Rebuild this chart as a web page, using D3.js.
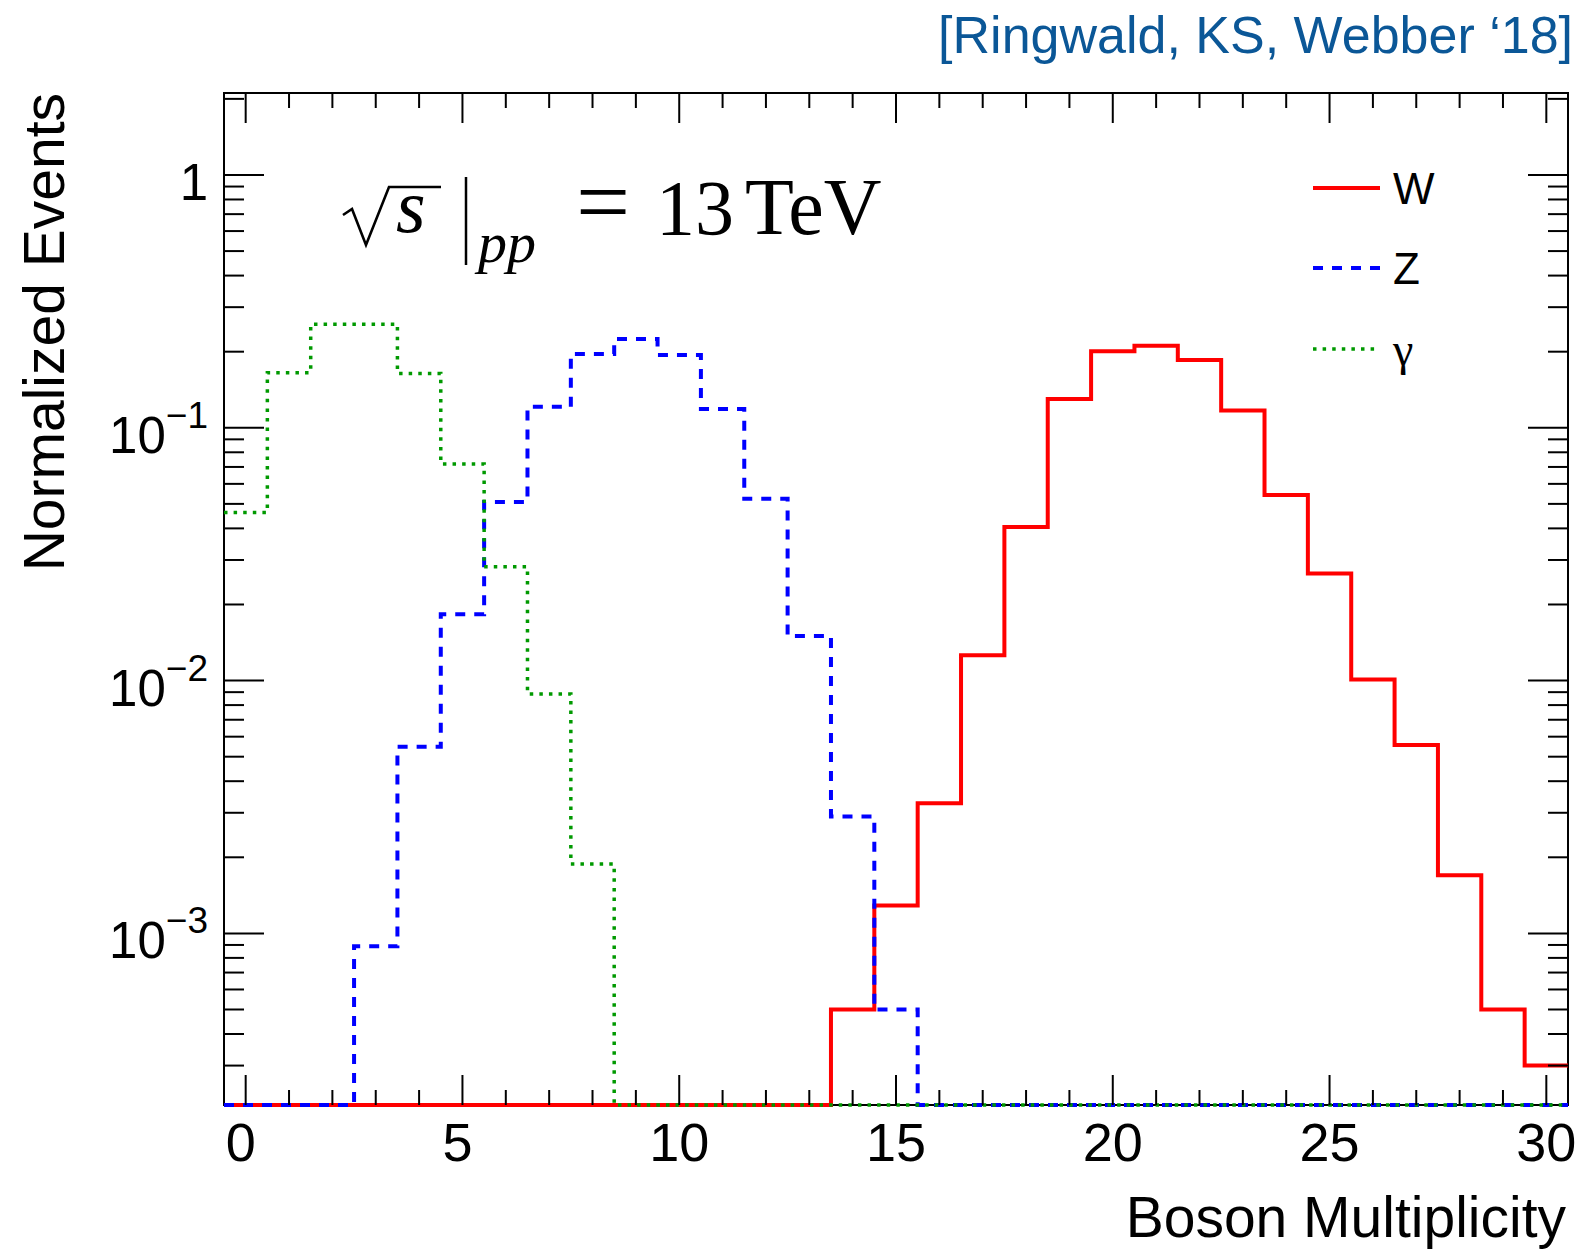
<!DOCTYPE html>
<html>
<head>
<meta charset="utf-8">
<script src="https://cdn.jsdelivr.net/npm/d3@7"></script>
<style>
  body { margin: 0; background: #fff; }
  text { font-family: "Liberation Sans", Arial, Helvetica, sans-serif; }
  .serif { font-family: "Liberation Serif", "Times New Roman", serif; }
</style>
</head>
<body>
<div id="graph"></div>
<script>
// bins 0..30, normalized events per boson multiplicity
var bins = d3.range(0, 31)
var wVals = [0, 0, 0, 0, 0, 0, 0, 0, 0, 0, 0, 0, 0, 0,
  0.0005, 0.00129, 0.00327, 0.0126, 0.0405, 0.130, 0.201, 0.211, 0.1854,
  0.117, 0.0542, 0.0265, 0.0101, 0.00556, 0.0017, 0.0005, 0.0003]
var zVals = [0, 0, 0, 0.00089, 0.00548, 0.0183, 0.0509, 0.121, 0.196, 0.2245,
  0.194, 0.1187, 0.0524, 0.015, 0.0029, 0.0005,
  0, 0, 0, 0, 0, 0, 0, 0, 0, 0, 0, 0, 0, 0, 0]
var gVals = [0.0462, 0.165, 0.257, 0.257, 0.164, 0.0719, 0.0282, 0.00885, 0.00188,
  0, 0, 0, 0, 0, 0, 0, 0, 0, 0, 0, 0, 0, 0, 0, 0, 0, 0, 0, 0, 0, 0]

var xMajor = [0, 5, 10, 15, 20, 25, 30]
var yMajor = [1e-3, 1e-2, 1e-1, 1]
var legendNames = ["W", "Z", "γ"]

var W = 1583, H = 1251
// frame edges (note: "top" is taken by window.top, so use prefixed names)
var fLeft = 224, fRight = 1568, fTop = 93, fBottom = 1105
var yMin = 2.095e-4, yMax = 2.11

var svg = d3.select("#graph").append("svg")
  .attr("width", W)
  .attr("height", H)

svg.append("rect").attr("width", W).attr("height", H).attr("fill", "#fff")

var xScale = d3.scaleLinear().domain([-0.5, 30.5]).range([fLeft, fRight])
var yScale = d3.scaleLog().domain([yMin, yMax]).range([fBottom, fTop])

function yv(v) { return yScale(Math.max(v, yMin)) }

// frame
svg.append("rect")
  .attr("x", fLeft).attr("y", fTop)
  .attr("width", fRight - fLeft).attr("height", fBottom - fTop)
  .attr("fill", "none").attr("stroke", "#000").attr("stroke-width", 2)

// step histograms
var step = d3.line()
  .x(function(d) { return xScale(d[0]) })
  .y(function(d) { return yv(d[1]) })
  .curve(d3.curveStepAfter)

function histPts(vals) {
  var pts = bins.map(function(b, i) { return [b - 0.5, vals[i]] })
  pts.push([30.5, vals[vals.length - 1]])
  return pts
}

var series = [
  {vals: wVals, color: "#ff0000", dash: null, width: 4},
  {vals: zVals, color: "#0000ff", dash: "10,9", width: 4},
  {vals: gVals, color: "#009900", dash: "3.5,6.1", width: 3.5}
]

series.forEach(function(s) {
  svg.append("path")
    .datum(histPts(s.vals))
    .attr("d", step)
    .attr("fill", "none")
    .attr("stroke", s.color)
    .attr("stroke-width", s.width)
    .attr("stroke-dasharray", s.dash)
})

// x ticks, bottom and top
var ticks = svg.append("g").attr("stroke", "#000").attr("stroke-width", 2)
d3.range(0, 31).forEach(function(v) {
  var len = (v % 5 == 0) ? 30 : 15
  var xx = xScale(v)
  ticks.append("line").attr("x1", xx).attr("x2", xx).attr("y1", fBottom).attr("y2", fBottom - len)
  ticks.append("line").attr("x1", xx).attr("x2", xx).attr("y1", fTop).attr("y2", fTop + len)
})

// y ticks, left and right
var yMinor = []
for (var d = -4; d <= 0; ++d) {
  for (var m = 2; m <= 9; ++m) {
    var v = m * Math.pow(10, d)
    if (v >= yMin && v <= yMax) yMinor.push(v)
  }
}
yMajor.forEach(function(v) {
  var yy = yScale(v)
  ticks.append("line").attr("x1", fLeft).attr("x2", fLeft + 40).attr("y1", yy).attr("y2", yy)
  ticks.append("line").attr("x1", fRight).attr("x2", fRight - 40).attr("y1", yy).attr("y2", yy)
})
yMinor.forEach(function(v) {
  var yy = yScale(v)
  ticks.append("line").attr("x1", fLeft).attr("x2", fLeft + 20).attr("y1", yy).attr("y2", yy)
  ticks.append("line").attr("x1", fRight).attr("x2", fRight - 20).attr("y1", yy).attr("y2", yy)
})

// x tick labels (ROOT puts the single digits a touch to the left)
svg.selectAll(".xlab")
  .data(xMajor)
  .enter().append("text")
  .attr("class", "xlab")
  .attr("x", function(d) { return xScale(d) - (d < 10 ? 5 : 0) })
  .attr("y", 1161)
  .attr("text-anchor", "middle")
  .attr("font-size", 54)
  .text(function(d) { return d })

// y tick labels (10^-k style)
yMajor.forEach(function(v) {
  var yy = yScale(v)
  var e = Math.round(Math.log10(v))
  var t = svg.append("text")
    .attr("x", 208).attr("y", yy + 25)
    .attr("text-anchor", "end")
    .attr("font-size", 51)
  if (e == 0) {
    t.text("1")
  } else {
    t.append("tspan").text("10")
    t.append("tspan").attr("dy", -25).attr("font-size", 37).text("\u2212" + (-e))
  }
})

// axis titles
svg.append("text")
  .attr("x", 1566).attr("y", 1237)
  .attr("text-anchor", "end")
  .attr("font-size", 57)
  .text("Boson Multiplicity")

svg.append("text")
  .attr("transform", "translate(64," + fTop + ") rotate(-90)")
  .attr("text-anchor", "end")
  .attr("font-size", 57)
  .text("Normalized Events")

// citation
svg.append("text")
  .attr("x", 1573).attr("y", 53)
  .attr("text-anchor", "end")
  .attr("font-size", 52)
  .attr("fill", "#0b5797")
  .text("[Ringwald, KS, Webber \u201818]")

// sqrt(s)|_pp = 13 TeV
var lab = svg.append("g")
lab.append("path")
  .attr("d", "M343,215 L352,209 L366,245 L389,187 L441,187")
  .attr("fill", "none").attr("stroke", "#000").attr("stroke-width", 2.6)
  .attr("stroke-linejoin", "miter")
lab.append("text").attr("class", "serif")
  .attr("x", 396).attr("y", 232)
  .attr("font-size", 76).attr("font-style", "italic")
  .text("s")
lab.append("line")
  .attr("x1", 466).attr("x2", 466).attr("y1", 177).attr("y2", 265)
  .attr("stroke", "#000").attr("stroke-width", 2.5)
lab.append("text").attr("class", "serif")
  .attr("x", 478).attr("y", 262)
  .attr("font-size", 58).attr("font-style", "italic")
  .text("pp")
lab.append("text").attr("class", "serif")
  .attr("x", 603).attr("y", 234)
  .attr("text-anchor", "middle")
  .attr("font-size", 96)
  .text("=")
lab.append("text").attr("class", "serif")
  .attr("x", 656).attr("y", 234)
  .attr("font-size", 78)
  .text("13")
lab.append("text").attr("class", "serif")
  .attr("x", 745).attr("y", 234)
  .attr("font-size", 80)
  .text("TeV")

// legend
var legY = [188, 268, 349]
series.forEach(function(s, i) {
  svg.append("line")
    .attr("x1", 1313).attr("x2", i == 2 ? 1376 : 1380)
    .attr("y1", legY[i]).attr("y2", legY[i])
    .attr("stroke", s.color)
    .attr("stroke-width", s.width)
    .attr("stroke-dasharray", s.dash)
  var t = svg.append("text")
    .attr("x", 1393)
    .attr("y", legY[i] + 16)
    .attr("font-size", 44)
    .text(legendNames[i])
  if (i == 2) t.attr("class", "serif").attr("font-size", 46)
})
</script>
</body>
</html>
